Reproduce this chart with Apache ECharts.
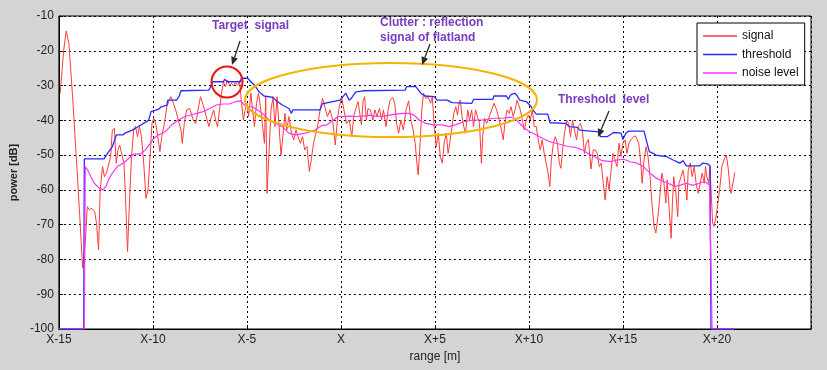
<!DOCTYPE html>
<html>
<head>
<meta charset="utf-8">
<script src="https://cdn.jsdelivr.net/npm/echarts@6/dist/echarts.min.js"></script>
<style>
html,body{margin:0;padding:0;background:#d4d4d4;}
#chart{width:827px;height:370px;}
</style>
</head>
<body>
<div id="chart"></div>
<script>
// ---------- data (range in m relative to X, power in dB) ----------
const xTicks = [-15, -10, -5, 0, 5, 10, 15, 20];
const seriesNames = ['signal', 'threshold', 'noise level'];

const sigX = [-14.93,-14.75,-14.61,-14.47,-14.26,-14.09,-13.91,-13.74,-13.6,-13.49,-13.39,-13.25,-13.1,-13.0,-12.89,-12.81,-12.68,-12.58,-12.47,-12.37,-12.25,-12.16,-12.05,-11.95,-11.86,-11.77,-11.67,-11.54,-11.46,-11.35,-11.25,-11.14,-11.02,-10.93,-10.82,-10.72,-10.61,-10.49,-10.37,-10.26,-10.14,-10.05,-9.95,-9.84,-9.74,-9.63,-9.53,-9.39,-9.26,-9.14,-9.04,-8.91,-8.79,-8.65,-8.51,-8.44,-8.33,-8.21,-8.04,-7.86,-7.72,-7.6,-7.47,-7.37,-7.25,-7.12,-7.02,-6.89,-6.77,-6.67,-6.56,-6.46,-6.35,-6.25,-6.14,-6.04,-5.93,-5.82,-5.72,-5.61,-5.49,-5.4,-5.3,-5.19,-5.09,-5.0,-4.91,-4.79,-4.7,-4.6,-4.49,-4.39,-4.28,-4.18,-4.07,-4.0,-3.93,-3.82,-3.72,-3.61,-3.51,-3.4,-3.3,-3.19,-3.09,-2.98,-2.88,-2.77,-2.63,-2.51,-2.39,-2.28,-2.16,-2.04,-1.93,-1.81,-1.68,-1.58,-1.46,-1.33,-1.23,-1.11,-0.98,-0.88,-0.72,-0.58,-0.44,-0.3,-0.19,-0.09,0.04,0.16,0.3,0.44,0.58,0.68,0.79,0.91,1.0,1.09,1.18,1.26,1.35,1.44,1.56,1.7,1.81,1.91,2.05,2.16,2.26,2.4,2.51,2.61,2.75,2.86,2.96,3.07,3.19,3.32,3.46,3.6,3.72,3.84,3.95,4.04,4.11,4.21,4.3,4.39,4.51,4.65,4.77,4.86,4.96,5.07,5.18,5.28,5.39,5.49,5.6,5.7,5.81,5.91,6.0,6.11,6.2,6.28,6.35,6.44,6.53,6.63,6.74,6.84,6.95,7.05,7.16,7.26,7.37,7.47,7.54,7.63,7.75,7.89,8.02,8.14,8.28,8.42,8.54,8.63,8.74,8.84,8.95,9.05,9.16,9.26,9.37,9.44,9.54,9.65,9.75,9.86,9.96,10.07,10.18,10.28,10.39,10.49,10.6,10.7,10.81,10.91,11.02,11.11,11.19,11.3,11.4,11.51,11.61,11.7,11.79,11.89,12.0,12.11,12.21,12.32,12.42,12.53,12.63,12.74,12.84,12.95,13.05,13.16,13.3,13.42,13.53,13.63,13.74,13.84,13.95,14.05,14.16,14.26,14.37,14.47,14.58,14.68,14.79,14.89,15.0,15.11,15.21,15.32,15.42,15.56,15.67,15.74,15.84,15.95,16.02,16.12,16.23,16.33,16.44,16.54,16.65,16.75,16.86,16.96,17.07,17.18,17.28,17.35,17.46,17.56,17.63,17.7,17.81,17.91,17.98,18.09,18.19,18.3,18.4,18.47,18.58,18.68,18.79,18.89,19.0,19.11,19.21,19.32,19.39,19.46,19.56,19.63,19.7,19.77,19.84,19.95,20.05,20.16,20.26,20.4,20.5,20.6,20.7,20.75,20.85,20.95];
const sigY = [-32.2,-20,-14.3,-17.9,-34.2,-49.5,-65.7,-82.5,-75.3,-64.8,-65.7,-65.3,-66.2,-69.6,-77.2,-60.5,-53.3,-56.2,-55.2,-55.7,-50.4,-42.8,-42.3,-52.3,-48.5,-47.1,-47.5,-52.3,-61.9,-77.7,-63.8,-50.4,-42.8,-41.8,-44.7,-41.8,-44.7,-52.3,-62.4,-60.0,-49.5,-40.9,-39.4,-41.3,-44.7,-49.0,-44.7,-40.9,-36.1,-34.2,-33.2,-35.1,-37.0,-39.9,-42.8,-46.6,-40.9,-37.0,-36.6,-39.9,-40.9,-37.0,-33.2,-32.7,-37.0,-39.9,-41.8,-38.9,-37.0,-39.9,-41.8,-37.0,-32.2,-28.9,-30.3,-28.4,-29.9,-29.4,-30.1,-29.2,-29.9,-28.6,-34.2,-39.9,-37.0,-35.1,-38.9,-32.2,-37.0,-41.8,-35.1,-32.2,-36.1,-41.0,-46.6,-33.2,-61.0,-48.5,-37.0,-33.2,-41.8,-33.2,-41.0,-50.0,-44.7,-38.0,-42.8,-38.9,-43.7,-45.6,-42.8,-44.7,-46.6,-44.7,-48.5,-47.5,-54.7,-51.4,-46.6,-43.7,-41.3,-37.0,-33.7,-33.4,-38.9,-37.0,-39.9,-47.1,-39.9,-36.1,-33.4,-37.0,-40.9,-39.9,-44.7,-38.9,-36.6,-34.6,-38.0,-41.3,-34.2,-33.2,-39.9,-36.6,-37.0,-39.9,-37.0,-38.9,-36.6,-39.9,-37.0,-41.8,-37.0,-34.2,-33.4,-35.1,-40.9,-43.7,-39.9,-42.8,-37.0,-34.4,-39.9,-42.8,-46.6,-52.3,-55.7,-46.6,-37.0,-32.2,-33.7,-33.4,-35.1,-33.2,-41.8,-47.6,-43.7,-50.4,-52.3,-46.6,-43.7,-49.5,-45.6,-41.8,-38.0,-36.1,-38.5,-35.0,-34.2,-38.9,-41.8,-43.7,-37.0,-39.9,-37.0,-41.8,-37.0,-38.9,-40.9,-52.3,-44.7,-39.4,-40.9,-38.9,-37.0,-35.1,-37.0,-39.9,-42.8,-45.6,-39.9,-37.0,-38.0,-36.1,-38.9,-37.0,-34.2,-33.7,-37.0,-39.9,-42.8,-39.9,-38.5,-39.9,-37.0,-41.8,-41.8,-45.6,-48.5,-45.6,-49.5,-52.3,-55.2,-59.0,-51.4,-46.6,-44.7,-46.6,-52.3,-53.8,-48.5,-43.7,-39.9,-40.9,-44.7,-39.9,-42.8,-45.6,-41.8,-40.9,-42.8,-49.5,-46.6,-45.5,-54.0,-48.5,-48.5,-49.5,-53.3,-52.3,-58.1,-62.9,-56.2,-60.0,-54.3,-49.5,-51.4,-53.3,-46.6,-50.4,-46.6,-45.6,-49.5,-46.6,-45.6,-44.7,-44.5,-44.2,-46.6,-52.3,-58.1,-51.4,-47.6,-50.4,-56.2,-63.8,-70.5,-72.4,-67.7,-61.9,-55.2,-58.1,-63.8,-57.1,-65.7,-73.9,-63.8,-56.2,-61.0,-67.7,-58.1,-56.2,-54.3,-58.1,-62.9,-54.3,-52.3,-56.2,-53.3,-58.1,-61.0,-58.1,-55.2,-58.1,-53.3,-56.2,-58.1,-53.3,-61.9,-69.6,-70.5,-67.7,-63.8,-59.0,-53.3,-51.0,-50.0,-54.0,-60.0,-61.0,-58.0,-55.0];

const thrX = [-15,-13.68,-13.65,-12.6,-12.42,-12.16,-11.95,-11.6,-11.49,-11.1,-10.84,-10.23,-10.1,-10.05,-9.7,-9.56,-9.26,-9.21,-8.74,-8.6,-8.51,-7.02,-6.9,-6.8,-6.25,-6.19,-6.05,-5.35,-5.3,-4.96,-4.79,-4.6,-4.35,-4.09,-3.61,-3.47,-3.12,-2.77,-2.63,-2.56,-1.11,-1.0,-0.93,-0.05,0.05,0.26,0.44,0.55,0.79,1.18,3.42,3.49,3.98,4.05,4.25,4.47,4.95,5.12,5.65,5.91,6.96,7.05,8.07,8.14,8.8,8.9,9.02,9.25,9.38,9.51,9.86,10.12,10.2,10.39,11.0,11.12,11.96,12.14,12.58,12.7,13.72,13.8,14.16,14.25,14.5,14.9,15.0,15.15,15.3,16.12,16.26,16.4,16.6,16.8,17.3,17.67,18.02,18.19,18.37,19.07,19.25,19.5,19.63,19.68,20.9];
const thrY = [-100,-100,-51.1,-51.1,-49.5,-47.6,-44.2,-44.2,-43.7,-42.8,-42.0,-40.0,-37.5,-37.0,-36.8,-36.1,-35.6,-34.2,-34.2,-33.0,-31.5,-31.3,-29.9,-28.9,-28.9,-28.2,-28.9,-28.9,-27.9,-27.9,-28.9,-29.9,-31.8,-33.0,-33.4,-34.2,-35.6,-36.6,-38.0,-37.0,-37.0,-35.3,-34.9,-34.2,-33.7,-32.2,-34.2,-33.7,-31.8,-31.5,-31.3,-30.3,-30.3,-30.8,-32.2,-33.0,-33.2,-34.2,-34.2,-34.9,-35.1,-34.0,-34.0,-33.0,-33.0,-34.0,-32.7,-32.2,-33.0,-34.2,-34.6,-36.1,-37.0,-38.2,-38.2,-40.7,-40.9,-41.8,-42.0,-42.8,-43.3,-44.7,-44.7,-44.2,-43.5,-43.7,-45.5,-43.7,-43.1,-43.1,-46.1,-49.0,-49.5,-50.1,-50.4,-51.4,-52.3,-51.6,-53.1,-53.1,-52.3,-52.5,-53.1,-100,-100];

const noiX = [-15,-13.65,-13.6,-13.47,-13.3,-13.12,-12.86,-12.65,-12.5,-12.33,-12.16,-11.89,-11.54,-11.28,-11.02,-10.67,-10.4,-10.14,-9.96,-9.7,-9.35,-9.0,-8.65,-8.3,-7.95,-7.86,-7.33,-6.98,-6.63,-6.28,-5.93,-5.58,-5.32,-5.14,-4.96,-4.7,-4.44,-4.18,-3.82,-3.47,-3.12,-2.77,-2.42,-1.89,-1.37,-1.02,-0.75,-0.4,-0.14,0.12,0.47,0.82,1.18,1.53,1.88,2.23,2.58,2.93,3.28,3.63,3.89,4.16,4.51,4.95,5.39,5.74,6.09,6.53,7.05,7.58,8.11,8.63,8.98,9.25,9.51,9.77,10.04,10.39,10.74,11.09,11.44,11.79,12.14,12.49,12.84,13.19,13.46,13.9,14.33,14.68,15.04,15.39,15.74,16.09,16.44,16.79,17.14,17.49,17.75,18.02,18.37,18.72,19.07,19.33,19.6,19.7,19.74,20.9];
const noiY = [-100,-100,-53.3,-54.3,-56.2,-58.1,-59.5,-60.0,-59.0,-56.7,-55.2,-53.3,-52.2,-50.9,-49.7,-49.7,-48.5,-46.6,-45.2,-44.2,-43.3,-41.3,-39.9,-38.9,-38.4,-38.0,-37.5,-36.6,-35.6,-35.3,-35.3,-34.6,-34.4,-35.6,-36.1,-36.1,-37.0,-38.0,-39.9,-40.9,-41.8,-43.7,-44.2,-43.7,-42.8,-41.5,-41.3,-39.9,-38.9,-38.9,-38.8,-38.9,-38.8,-38.5,-38.9,-38.8,-38.5,-38.2,-38.0,-38.0,-38.5,-39.9,-40.9,-41.3,-41.3,-41.8,-41.3,-40.4,-39.9,-39.9,-39.4,-39.4,-39.1,-39.4,-40.9,-42.3,-43.3,-44.2,-45.2,-46.1,-46.6,-47.1,-47.6,-47.8,-48.5,-49.7,-50.4,-51.6,-51.9,-51.4,-51.2,-51.9,-52.3,-53.3,-55.2,-56.7,-57.6,-58.3,-59.0,-58.7,-58.1,-58.7,-58.1,-57.6,-58.6,-59.0,-100,-100];

// ---------- chart ----------
const pairs = (xs, ys) => xs.map((x, i) => [x, ys[i]]);
const FONT = "'Liberation Sans', Arial, sans-serif";
const PURPLE = '#7a3cc0';

function fmtX(v) {
  if (xTicks.indexOf(v) < 0) return '';
  if (v === 0) return 'X';
  return v < 0 ? 'X' + v : 'X+' + v;
}

function arrow(x1, y1, x2, y2) {
  const dx = x2 - x1, dy = y2 - y1, L = Math.hypot(dx, dy);
  const ux = dx / L, uy = dy / L, h = 8, w = 3.5;
  const bx = x2 - ux * h, by = y2 - uy * h;
  return [
    { type: 'line', shape: { x1: x1, y1: y1, x2: bx, y2: by }, style: { stroke: '#2a2a2a', lineWidth: 1.3 }, z: 100 },
    { type: 'polygon', shape: { points: [[x2, y2], [bx - uy * w, by + ux * w], [bx + uy * w, by - ux * w]] }, style: { fill: '#2a2a2a' }, z: 100 }
  ];
}

const chart = echarts.init(document.getElementById('chart'), null, { renderer: 'canvas' });
const option = {
  backgroundColor: '#d4d4d4',
  animation: false,
  textStyle: { fontFamily: FONT },
  grid: {
    left: 51, right: 16, top: 16, bottom: 41,
    show: true, backgroundColor: '#ffffff', borderColor: '#000000', borderWidth: 1
  },
  legend: {
    orient: 'vertical', left: 697, top: 23,
    data: seriesNames,
    icon: 'rect',
    itemWidth: 34, itemHeight: 1.5, itemGap: 4.5,
    padding: [6, 6, 5, 6],
    backgroundColor: '#ffffff', borderColor: '#000000', borderWidth: 1,
    textStyle: { fontSize: 12, color: '#111', fontFamily: FONT, lineHeight: 14 }
  },
  xAxis: {
    type: 'value', min: -15, max: 25, interval: 5,
    name: 'range [m]', nameLocation: 'middle', nameGap: 22,
    nameTextStyle: { fontSize: 12, color: '#222', fontFamily: FONT },
    axisLine: { show: true, onZero: false, lineStyle: { color: '#000', width: 1 } },
    axisTick: { show: true, inside: true, length: 4, lineStyle: { color: '#000' } },
    axisLabel: { formatter: fmtX, margin: 5, fontSize: 12, color: '#222', fontFamily: FONT },
    splitLine: { show: true, lineStyle: { color: '#000', type: [2, 3], width: 1 } }
  },
  yAxis: {
    type: 'value', min: -100, max: -10, interval: 10,
    name: 'power [dB]', nameLocation: 'middle', nameGap: 33,
    nameTextStyle: { fontSize: 11, fontWeight: 'bold', color: '#222', fontFamily: FONT },
    axisLine: { show: true, onZero: false, lineStyle: { color: '#000', width: 1 } },
    axisTick: { show: true, inside: true, length: 4, lineStyle: { color: '#000' } },
    axisLabel: { margin: 5, fontSize: 12, color: '#222', fontFamily: FONT },
    splitLine: { show: true, lineStyle: { color: '#000', type: [2, 3], width: 1 } }
  },
  series: [
    {
      name: seriesNames[0], type: 'line', data: pairs(sigX, sigY),
      symbol: 'none', showSymbol: false, z: 3,
      lineStyle: { color: '#ff3b3b', width: 1 }, itemStyle: { color: '#ff3b3b' }
    },
    {
      name: seriesNames[1], type: 'line', data: pairs(thrX, thrY),
      symbol: 'none', showSymbol: false, z: 4,
      lineStyle: { color: '#2b2bff', width: 1.3 }, itemStyle: { color: '#2b2bff' }
    },
    {
      name: seriesNames[2], type: 'line', data: pairs(noiX, noiY),
      symbol: 'none', showSymbol: false, z: 5,
      lineStyle: { color: '#ff33ff', width: 1.2 }, itemStyle: { color: '#ff33ff' }
    }
  ],
  graphic: [
    { type: 'text', left: 212, top: 20, z: 100,
      style: { text: 'Target  signal', fill: PURPLE, font: "bold 12px " + FONT } },
    { type: 'text', left: 380, top: 15, z: 100,
      style: { text: 'Clutter : reflection\nsignal of flatland', fill: PURPLE, font: "bold 12px " + FONT, lineHeight: 15 } },
    { type: 'text', left: 558, top: 94, z: 100,
      style: { text: 'Threshold  level', fill: PURPLE, font: "bold 12px " + FONT } },
    { type: 'circle', shape: { cx: 227, cy: 82, r: 15.5 }, style: { fill: null, stroke: '#ee1111', lineWidth: 2 }, z: 100 },
    { type: 'ellipse', shape: { cx: 391, cy: 100, rx: 146, ry: 37 }, style: { fill: null, stroke: '#f5b400', lineWidth: 2 }, z: 100 }
  ].concat(arrow(240, 41, 232, 65), arrow(430, 44, 422, 65), arrow(609, 111, 598, 137))
};
chart.setOption(option);
</script>
</body>
</html>
